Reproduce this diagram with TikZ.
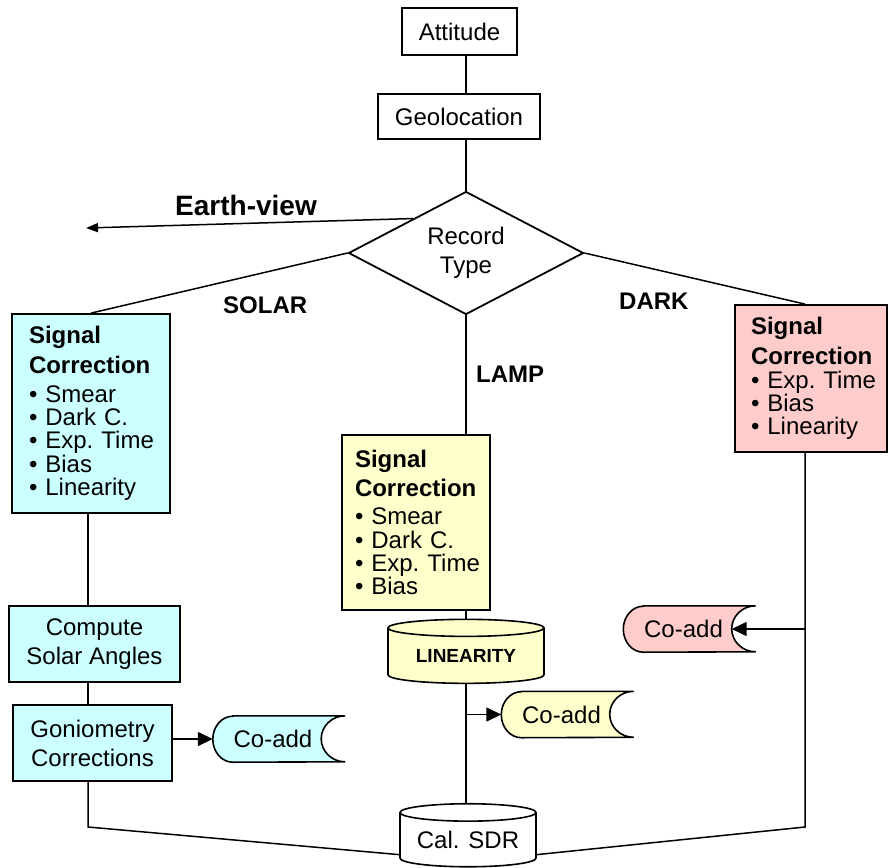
\documentclass[tikz,border=0pt]{standalone}
\usepackage{fontspec}
\setmainfont{Liberation Sans}
\usetikzlibrary{shapes.geometric,arrows.meta,calc}
\pgfdeclarelayer{background}
\pgfsetlayers{background,main}
\definecolor{cyanf}{HTML}{CCFFFF}
\definecolor{yellowf}{HTML}{FFFFCC}
\definecolor{pinkf}{HTML}{FFCCCC}

% stored-data outline (rounded left side, hollow right side) behind a node
\newcommand\storedoutline[2]{%
  \begin{pgfonlayer}{background}
    \draw[shapeline, fill=#2]
      ($(#1.north west)+(20,0)$) -- ($(#1.north east)+(12,0)$)
      arc[start angle=90, end angle=270, x radius=24pt, y radius=23pt]
      -- ($(#1.south west)+(20,0)$)
      arc[start angle=270, end angle=90, x radius=20pt, y radius=23pt]
      -- cycle;
  \end{pgfonlayer}}

\begin{document}
\begin{tikzpicture}[x=1pt,y=-1pt,
  every node/.style={font=\fontsize{24}{29}\selectfont},
  box/.style={draw, line width=1.8pt, inner sep=0pt, align=center},
  sigbox/.style={draw, line width=1.8pt, align=left, inner ysep=0pt,
    font=\fontsize{24}{23.3}\selectfont},
  decision/.style={diamond, draw, line width=1.8pt, aspect=1.9, inner sep=0pt, align=center},
  storebox/.style={cylinder, shape border rotate=90, draw, line width=1.6pt, inner sep=0pt, aspect=0.17},
  coadd/.style={inner sep=0pt, minimum width=120pt, minimum height=46pt},
  shapeline/.style={line width=1.6pt},
  lbl/.style={inner sep=0pt, font=\bfseries\fontsize{24}{29}\selectfont},
  conn/.style={line width=1.5pt},
  arr/.style={conn, -{Triangle[length=15pt,width=14pt]}},
  evarr/.style={conn, -{Triangle[length=12pt,width=9pt]}}
]
\useasboundingbox (0,0) rectangle (888,867);

% column guides
\coordinate (solarcol) at (88,0);
\coordinate (lampcol) at (466,0);
\coordinate (darkcol) at (805,0);

% top chain
\node[box, minimum width=115pt, minimum height=47pt] (att) at (459.5,31.5) {Attitude};
\node[box, minimum width=162pt, minimum height=45pt] (geo) at (459,116.5) {Geolocation};
\node[decision, minimum width=235pt, minimum height=123pt] (dia) at (466,253) {Record\\Type};

% branch labels
\node[lbl, anchor=base west, font=\bfseries\fontsize{28}{32}\selectfont] (evl) at (175,215) {Earth-view};
\node[lbl, anchor=base west] (sol) at (223,313) {SOLAR};
\node[lbl, anchor=base west] (drk) at (619,309) {DARK};
\node[lbl, anchor=base west] (lmp) at (476,382) {LAMP};
\coordinate (ev) at (86,228);

% solar branch
\node[sigbox, fill=cyanf, text width=124pt, inner xsep=17pt, minimum height=199pt] (sigC) at (91,413.5)
  {{\bfseries Signal}\\[6pt]{\bfseries Correction}\\[5.7pt]\textbullet~Smear\\\textbullet~Dark~C.\\\textbullet~Exp.~Time\\\textbullet~Bias\\\textbullet~Linearity};
\node[box, fill=cyanf, minimum width=171pt, minimum height=76pt] (csa) at (94.5,644) {Compute\\Solar Angles};
\node[box, fill=cyanf, minimum width=159pt, minimum height=76pt] (gon) at (92.5,743) {Goniometry\\Corrections};
\node[coadd] (ca1) at (273,739) {Co-add};
\storedoutline{ca1}{cyanf}

% lamp branch
\node[sigbox, fill=yellowf, text width=122pt, inner xsep=13pt, minimum height=175pt] (sigY) at (416,522.5)
  {{\bfseries Signal}\\[6pt]{\bfseries Correction}\\[4.7pt]\textbullet~Smear\\\textbullet~Dark~C.\\\textbullet~Exp.~Time\\\textbullet~Bias};
\node[storebox, fill=yellowf, minimum width=156pt, minimum height=64pt,
  font=\bfseries\fontsize{19}{19}\selectfont] (lin) at (466,656) {LINEARITY};
\node[coadd] (ca2) at (561.5,714.5) {Co-add};
\storedoutline{ca2}{yellowf}

% dark branch
\node[sigbox, fill=pinkf, text width=120pt, inner xsep=16pt, minimum height=147pt] (sigP) at (811,378.5)
  {{\bfseries Signal}\\[6pt]{\bfseries Correction}\\[0.7pt]\textbullet~Exp.~Time\\\textbullet~Bias\\\textbullet~Linearity};
\node[coadd] (ca3) at (683.5,629) {Co-add};
\storedoutline{ca3}{pinkf}

% output
\node[storebox, fill=white, minimum width=136pt, minimum height=63pt] (cal) at (468,840) {Cal. SDR};
\coordinate (bl) at (88,827);
\coordinate (br) at (805,827);

% connectors
\draw[conn] (att.south -| lampcol) -- (geo.north -| lampcol);
\draw[conn] (geo.south -| lampcol) -- (dia.north);
\draw[evarr] (dia.147) -- (ev);
\draw[conn] (dia.west) -- (sigC.north);
\draw[conn] (dia.east) -- (sigP.north -| darkcol);
\draw[conn] (dia.south) -- (sigY.north -| lampcol);

\draw[conn] (sigC.south -| solarcol) -- (csa.north -| solarcol);
\draw[conn] (csa.south -| solarcol) -- (gon.north -| solarcol);
\draw[arr] (gon.east |- ca1.west) -- (ca1.west);
\draw[conn] (gon.south -| solarcol) -- (bl) -- (cal.192);

\draw[conn] (sigY.south -| lampcol) -- (lin.north -| lampcol);
\draw[conn] (lin.south -| lampcol) -- (cal.north -| lampcol);
\draw[arr] (ca2.west -| lampcol) -- (ca2.west);

\draw[conn] (sigP.south -| darkcol) -- (br) -- (cal.-12);
\draw[arr] (ca3.east -| darkcol) -- ($(ca3.east)+(-12,0)$);
\end{tikzpicture}
\end{document}
